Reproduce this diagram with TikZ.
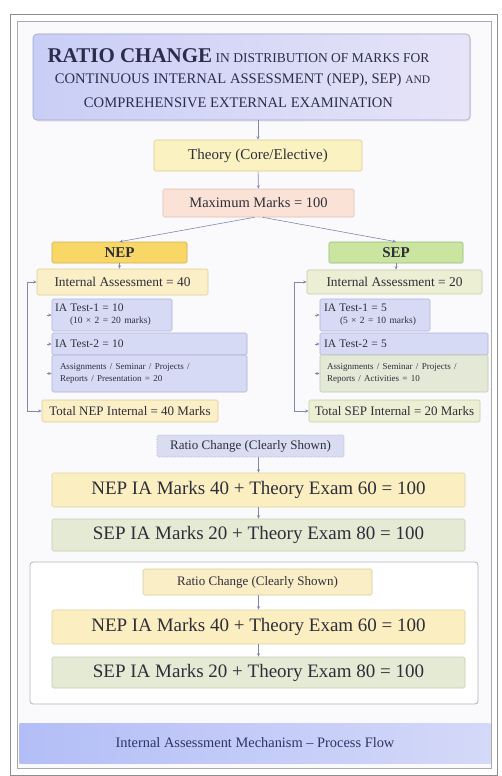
\documentclass[tikz,border=0pt]{standalone}
\usepackage{fontspec}
\setmainfont{Liberation Serif}
\usetikzlibrary{arrows.meta,shadows}
\definecolor{txt}{HTML}{2E2E3A}
\definecolor{navy}{HTML}{2B2D4A}
\definecolor{arrc}{HTML}{8088B0}
\definecolor{bgc}{HTML}{FAFAFD}
\definecolor{frm}{HTML}{8E8E8E}
\definecolor{frm2}{HTML}{ABABAB}
\definecolor{titL}{HTML}{C9CEF6}
\definecolor{titR}{HTML}{E7E4F8}
\definecolor{titB}{HTML}{A2A8CA}
\definecolor{thF}{HTML}{FBF2C2}
\definecolor{thB}{HTML}{D9CB8E}
\definecolor{mxF}{HTML}{FAE2D6}
\definecolor{mxB}{HTML}{DFC0B2}
\definecolor{nepF}{HTML}{F8D766}
\definecolor{nepB}{HTML}{CDB04E}
\definecolor{sepF}{HTML}{C9E5A0}
\definecolor{sepB}{HTML}{97B876}
\definecolor{iyF}{HTML}{FAEFC6}
\definecolor{iyB}{HTML}{DCCD95}
\definecolor{igF}{HTML}{EDEFD5}
\definecolor{igB}{HTML}{C5CCA5}
\definecolor{lavF}{HTML}{D7DAF4}
\definecolor{lavB}{HTML}{ADB2D9}
\definecolor{sgF}{HTML}{E3E9D6}
\definecolor{sgB}{HTML}{C0C9AE}
\definecolor{r1F}{HTML}{DADCF2}
\definecolor{r1B}{HTML}{A6ABD1}
\definecolor{nmF}{HTML}{FBEEC0}
\definecolor{nmB}{HTML}{DDD3A2}
\definecolor{smF}{HTML}{E5EAD5}
\definecolor{smB}{HTML}{C4CCB3}
\definecolor{r2F}{HTML}{FAEEC6}
\definecolor{r2B}{HTML}{D8CC98}
\definecolor{ftL}{HTML}{B3BEF7}
\definecolor{ftR}{HTML}{D4D9F8}
\definecolor{ftT}{HTML}{2F3566}
\definecolor{secB}{HTML}{B4B4BE}
\newcommand\fsz[2]{\fontsize{#1}{#2}\selectfont}
\begin{document}
\begin{tikzpicture}[x=1pt,y=-1pt,
  bx/.style 2 args={draw=#2, fill=#1, rounded corners=1.5pt, line width=.6pt, inner sep=0pt, text=txt, align=center},
  sz/.style 2 args={minimum width=#1pt, minimum height=#2pt},
  arr/.style={draw=arrc, line width=.6pt, -{Stealth[length=3.5pt,width=3pt]}},
  barr/.style={draw=arrc, line width=.6pt, {Stealth[length=3.5pt,width=3pt]}-{Stealth[length=3.5pt,width=3pt]}},
  lbl/.style={inner sep=0pt, anchor=base, text=navy}]
\useasboundingbox (0,0) rectangle (502,776);
\fill[white] (0,0) rectangle (502,776);
\fill[bgc] (17.5,21.5) rectangle (491,768.5);
\draw[frm, line width=1.3pt] (10.5,14.5) rectangle (497.5,775.5);
\draw[frm2, line width=.9pt] (17.5,21.5) rectangle (491,768.5);

% title
\node[bx={titL}{titB}, left color=titL, right color=titR, rounded corners=4pt, sz={437}{86},
  drop shadow={opacity=.15, shadow xshift=1pt, shadow yshift=-1.5pt}] (title) at (251.5,77) {};
\node[lbl] (tl1) at (238.5,63) {\fsz{21}{24}\bfseries RATIO CHANGE\mdseries\fsz{13.5}{15} IN DISTRIBUTION OF MARKS FOR};
\node[lbl] (tl2) at (242.5,84) {\fsz{14.6}{16}CONTINUOUS INTERNAL ASSESSMENT (NEP), SEP) \fsz{11.5}{12}AND};
\node[lbl] (tl3) at (238.5,107) {\fsz{14.6}{16}COMPREHENSIVE EXTERNAL EXAMINATION};

\node[bx={thF}{thB}, sz={208}{31}] (theory) at (258,155.5) {\fsz{15}{17}Theory (Core/Elective)};
\node[bx={mxF}{mxB}, sz={191}{28}] (max) at (258.5,203) {\fsz{14.5}{16}Maximum Marks = 100};

\node[bx={nepF}{nepB}, sz={135}{21}] (nep) at (119.5,252.5) {\fsz{15}{17}\bfseries NEP};
\node[bx={sepF}{sepB}, sz={134}{21}] (sep) at (396,252.5) {\fsz{15}{17}\bfseries SEP};

\node[bx={iyF}{iyB}, sz={171}{26}] (ia40) at (122.5,282) {\fsz{13.4}{15}Internal Assessment = 40};
\node[bx={igF}{igB}, sz={175}{24}] (ia20) at (394.5,282) {\fsz{13.4}{15}Internal Assessment = 20};

% NEP sub boxes
\node[bx={lavF}{lavB}, sz={120}{32}, text width=114pt, align=left] (t1n) at (112,315)
  {\fsz{11.5}{12}IA Test-1 = 10\\\hspace*{15pt}\fsz{9.5}{10.5}(10 × 2 = 20 marks)};
\node[bx={lavF}{lavB}, sz={195}{22}, text width=189pt, align=left] (t2n) at (149.5,344)
  {\fsz{11.5}{12}IA Test-2 = 10};
\node[bx={lavF}{lavB}, sz={195}{37}, text width=179pt, align=left] (asn) at (149.5,373.5)
  {\fsz{9}{14}Assignments / Seminar / Projects /\\Reports / Presentation = 20};
\node[bx={iyF}{iyB}, sz={176}{22}] (totn) at (130,411) {\fsz{13}{15}Total NEP Internal = 40 Marks};

% SEP sub boxes
\node[bx={lavF}{lavB}, sz={110}{32}, text width=102pt, align=left] (t1s) at (375,315)
  {\fsz{11.5}{12}IA Test-1 = 5\\\hspace*{16pt}\fsz{9.5}{10.5}(5 × 2 = 10 marks)};
\node[bx={lavF}{lavB}, sz={168}{22}, text width=160pt, align=left] (t2s) at (404,344)
  {\fsz{11.5}{12}IA Test-2 = 5};
\node[bx={sgF}{sgB}, sz={168}{37}, text width=154pt, align=left] (ass) at (404,373.5)
  {\fsz{9}{14}Assignments / Seminar / Projects /\\Reports / Activities = 10};
\node[bx={igF}{igB}, sz={171}{22}] (tots) at (394.5,411) {\fsz{13}{15}Total SEP Internal = 20 Marks};

% ratio section 1
\node[bx={r1F}{r1B}, densely dotted, sz={187}{22}] (ratio1) at (250.5,446) {\fsz{13}{15}Ratio Change (Clearly Shown)};
\node[bx={nmF}{nmB}, sz={413}{34}] (nepm1) at (258.5,490) {\fsz{19}{22}NEP IA Marks 40 + Theory Exam 60 = 100};
\node[bx={smF}{smB}, sz={413}{32}] (sepm1) at (258.5,535) {\fsz{19}{22}SEP IA Marks 20 + Theory Exam 80 = 100};

% section 2
\node[draw=secB, fill=white, rounded corners=3pt, line width=.8pt, sz={448}{142}, inner sep=0pt] (sec) at (254,633) {};
\node[bx={r2F}{r2B}, sz={229}{26}] (ratio2) at (257.5,582) {\fsz{13}{15}Ratio Change (Clearly Shown)};
\node[bx={nmF}{nmB}, sz={413}{34}] (nepm2) at (258.5,627) {\fsz{19}{22}NEP IA Marks 40 + Theory Exam 60 = 100};
\node[bx={smF}{smB}, sz={413}{31}] (sepm2) at (258.5,672.5) {\fsz{19}{22}SEP IA Marks 20 + Theory Exam 80 = 100};

% footer
\node[left color=ftL, right color=ftR, inner sep=0pt, sz={471}{40}, text=ftT] (foot) at (255,743)
  {\fsz{14.4}{16}Internal Assessment Mechanism – Process Flow};

% connectors
\draw[arr] (theory.north |- title.south) -- (theory.north);
\draw[arr] (theory) -- (max);
\draw[arr] ([xshift=-4pt]max.south) -- (nep.north);
\draw[arr] ([xshift=4pt]max.south) -- (sep.north);
\draw[arr] (nep.south) -- (nep.south |- ia40.north);
\draw[arr] (sep.south) -- (sep.south |- ia20.north);
\draw[barr] (ia40.west) -- ++(-9,0) |- (totn.west);
\draw[barr] (ia20.west) -- ++(-12,0) |- (tots.west);
\foreach \n in {t1n,t2n,asn,t1s,t2s,ass}{
  \draw[arr] ([xshift=-5pt]\n.west) -- (\n.west);
}
\draw[arr] (nepm1.north |- ratio1.south) -- (nepm1.north);
\draw[arr] (nepm1) -- (sepm1);
\draw[arr] (nepm2.north |- ratio2.south) -- (nepm2.north);
\draw[arr] (nepm2) -- (sepm2);
\end{tikzpicture}
\end{document}
